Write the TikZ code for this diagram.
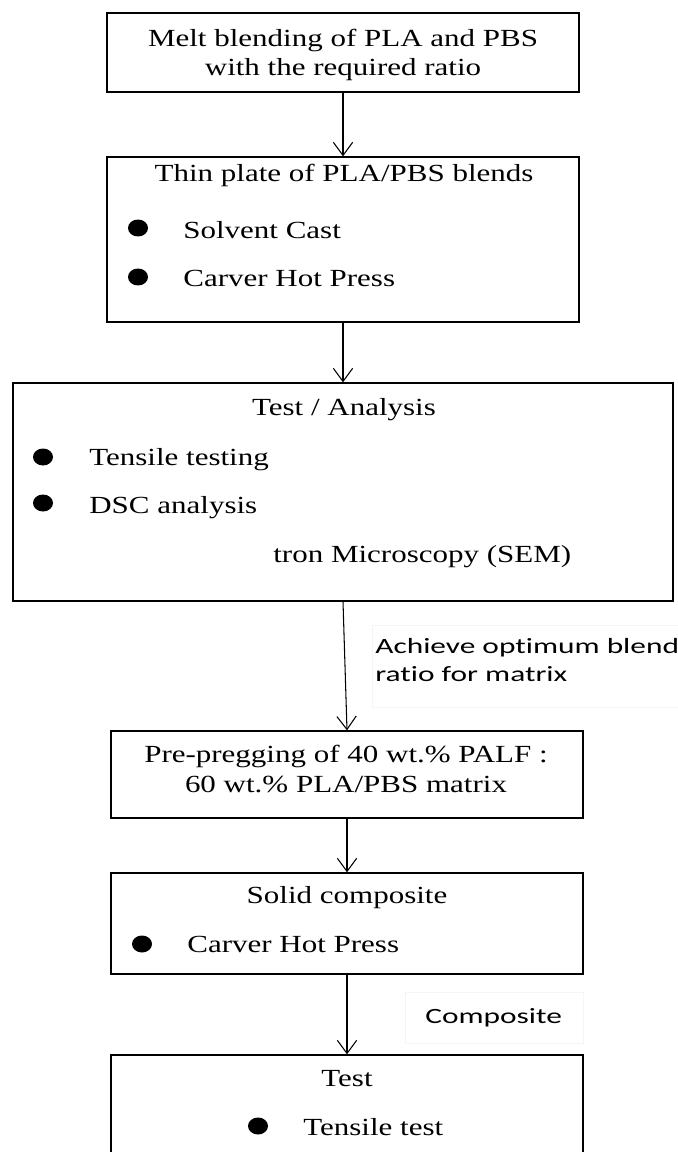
\documentclass[tikz,border=0pt]{standalone}
\usepackage{fontspec}
\setmainfont{Liberation Serif}[FakeStretch=1.26]
\newfontfamily\calfont{Carlito}[FakeStretch=1.44, Ligatures=NoCommon]
\usetikzlibrary{arrows.meta,shapes.geometric}
\begin{document}
\begin{tikzpicture}[x=0.02cm,y=-0.02cm]
    \tikzstyle{every node}+=[inner sep=0pt, font=\fontsize{14}{17}\selectfont]
    \tikzstyle{stage}=[draw=black, line width=0.75pt, minimum width=9.44cm]
    \tikzstyle{dot}=[ellipse, fill=black, minimum width=0.4cm, minimum height=0.34cm]
    \tikzstyle{flow}=[black, line width=0.6pt, -{Straight Barb[length=7.5pt,width=11pt]}]
    \tikzstyle{note}=[font=\calfont\fontsize{12.4}{14}\selectfont]
    \tikzstyle{notebox}=[draw=black!4, fill=white, line width=0.4pt]
    \useasboundingbox (0,0) rectangle (678,1152);
    \clip (0,0) rectangle (678,1152);
    \node [stage, minimum height=1.58cm] (melt) at (343,52.5) {};
    \node [anchor=base] (melt1) at (343,47) {Melt blending of PLA and PBS};
    \node [anchor=base] (melt2) at (343,76) {with the required ratio};
    \node [stage, minimum height=3.3cm] (plate) at (343,239.5) {};
    \node [anchor=base] (plate0) at (344,182) {Thin plate of PLA/PBS blends};
    \node [dot] (pd1) at (138,228) {};
    \node [anchor=base west] (plate1) at (183,238) {Solvent Cast};
    \node [dot] (pd2) at (138,277) {};
    \node [anchor=base west] (plate2) at (183,286) {Carver Hot Press};
    \node [stage, minimum width=13.2cm, minimum height=4.36cm] (test) at (343,492) {};
    \node [anchor=base] (test0) at (344,415) {Test / Analysis};
    \node [dot] (td1) at (43,457) {};
    \node [anchor=base west] (test1) at (89,465) {Tensile testing};
    \node [dot] (td2) at (43,503) {};
    \node [anchor=base west] (test2) at (89,513) {DSC analysis};
    \node [anchor=base west] (test3) at (273,562) {tron Microscopy (SEM)};
    \node [notebox, minimum width=6.12cm, minimum height=1.64cm] (optbg) at (525,666) {};
    \node [note, anchor=base west] (opt1) at (375,653) {Achieve optimum blend};
    \node [note, anchor=base west] (opt2) at (375,681) {ratio for matrix};
    \node [stage, minimum height=1.74cm] (preg) at (347,774.5) {};
    \node [anchor=base] (preg1) at (346,762) {Pre-pregging of 40 wt.\% PALF :};
    \node [anchor=base] (preg2) at (346,792) {60 wt.\% PLA/PBS matrix};
    \node [stage, minimum height=2.02cm] (solid) at (347,923.5) {};
    \node [anchor=base] (solid0) at (347,903) {Solid composite};
    \node [dot] (sd1) at (142,944) {};
    \node [anchor=base west] (solid1) at (187,952) {Carver Hot Press};
    \node [notebox, minimum width=3.56cm, minimum height=1.02cm] (compbg) at (494,1017.5) {};
    \node [note, anchor=base west] (comp) at (425,1023) {Composite};
    \node [stage, minimum height=2.9cm] (final) at (347,1127.5) {};
    \node [anchor=base] (final0) at (347,1086) {Test};
    \node [dot] (fd1) at (258,1126) {};
    \node [anchor=base west] (final1) at (303,1135) {Tensile test};
    \draw [flow] (melt.south) -- (plate.north);
    \draw [flow] (plate.south) -- (test.north);
    \draw [flow] (test.south) -- (preg.north);
    \draw [flow] (preg.south) -- (solid.north);
    \draw [flow] (solid.south) -- (final.north);
\end{tikzpicture}
\end{document}
